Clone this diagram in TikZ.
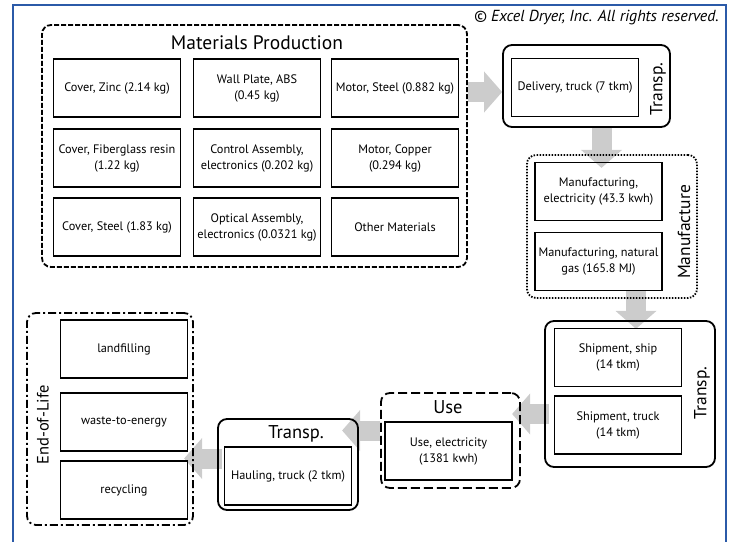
\documentclass[tikz,border=0pt]{standalone}
\usepackage{fontspec}
\setmainfont{PT Sans}
\usetikzlibrary{arrows.meta,positioning}
\definecolor{frameblue}{HTML}{2B5AA8}
\pgfdeclarelayer{bg}
\pgfsetlayers{bg,main}

\begin{document}
\begin{tikzpicture}[x=1pt,y=-1pt,
  bx/.style={draw,line width=1.6pt,minimum width=127pt,minimum height=58pt,inner sep=1pt,align=center,font=\fontsize{12.3}{16}\selectfont},
  grp/.style={draw,line width=1.8pt,rounded corners=9pt,inner sep=0pt},
  matgrp/.style={grp,dash pattern=on 5pt off 2pt},
  mfgrp/.style={grp,dash pattern=on 1.5pt off 1.5pt},
  usegrp/.style={grp,dash pattern=on 9pt off 4pt},
  eolgrp/.style={grp,dash pattern=on 8pt off 3pt on 2pt off 3pt},
  ttl/.style={font=\fontsize{18.5}{20}\selectfont,inner sep=0pt},
  vttl/.style={rotate=90,inner sep=0pt,font=\fontsize{17.5}{20}\selectfont},
  bigarr/.style={line width=20pt,draw=black!20,-{Triangle[length=18pt,width=40pt]}}]

  \useasboundingbox (0,0) rectangle (730,541);
  \draw[frameblue,line width=2.5pt] (13,545) |- (726,5) -- (726,545);
  \node[anchor=east,inner sep=0pt,font=\itshape\fontsize{16}{18}\selectfont] (cpr) at (719,18) {© Excel Dryer, Inc. All rights reserved.};

  % materials
  \node[matgrp,minimum width=425pt,minimum height=242pt] (mat) at (254.5,146) {};
  \node[ttl,font=\fontsize{19.5}{22}\selectfont] (matT) at (257,43) {Materials Production};
  \node[bx] (czn) at (117,88) {Cover, Zinc (2.14 kg)};
  \node[bx] (wall) at (257,88) {Wall Plate, ABS\\(0.45 kg)};
  \node[bx] (mst) at (395,88) {Motor, Steel (0.882 kg)};
  \node[bx] (cfg) at (117,158) {Cover, Fiberglass resin\\(1.22 kg)};
  \node[bx] (ctl) at (257,158) {Control Assembly,\\electronics (0.202 kg)};
  \node[bx] (mcu) at (395,158) {Motor, Copper\\(0.294 kg)};
  \node[bx] (cst) at (117,227) {Cover, Steel (1.83 kg)};
  \node[bx] (opt) at (257,227) {Optical Assembly,\\electronics (0.0321 kg)};
  \node[bx] (oth) at (395,227) {Other Materials};

  % delivery
  \node[grp,minimum width=167pt,minimum height=82pt] (tr1) at (586.5,86) {};
  \node[bx] (dlv) at (575,87.5) {Delivery, truck (7 tkm)};
  \node[vttl] (tr1T) at (658,89) {Transp.};

  % manufacture
  \node[mfgrp,minimum width=170pt,minimum height=143pt] (mf) at (612,226.5) {};
  \node[bx] (mfe) at (598.5,191.5) {Manufacturing,\\electricity (43.3 kwh)};
  \node[bx] (mfg) at (598.5,261.5) {Manufacturing, natural\\gas (165.8 MJ)};
  \node[vttl] (mfT) at (684,232) {Manufacture};

  % shipment
  \node[grp,minimum width=170pt,minimum height=146pt] (tr2) at (630,394) {};
  \node[bx] (shp) at (618,357.5) {Shipment, ship\\(14 tkm)};
  \node[bx] (sht) at (618,425) {Shipment, truck\\(14 tkm)};
  \node[vttl] (tr2T) at (702,393) {Transp.};

  % use
  \node[usegrp,minimum width=139pt,minimum height=95pt] (use) at (450.5,440.5) {};
  \node[ttl] (useT) at (448,407) {Use};
  \node[bx] (uel) at (448.5,451) {Use, electricity\\(1381 kwh)};

  % hauling
  \node[grp,minimum width=140pt,minimum height=91pt] (tr3) at (288,464.5) {};
  \node[ttl] (tr3T) at (296,434) {Transp.};
  \node[bx] (hau) at (288,476) {Hauling, truck (2 tkm)};

  % end of life
  \node[eolgrp,minimum width=166pt,minimum height=212pt] (eol) at (110,419) {};
  \node[vttl,font=\fontsize{16.5}{20}\selectfont] (eolT) at (43,425) {End-of-Life};
  \node[bx] (lnd) at (124,349) {landfilling};
  \node[bx] (wte) at (124,422) {waste-to-energy};
  \node[bx] (rcy) at (124,490) {recycling};

  \begin{pgfonlayer}{bg}
    \draw[bigarr] ([yshift=-6pt]mat.east |- tr1.west) -- ([yshift=-6pt]tr1.west);
    \draw[bigarr] ([xshift=15pt]tr1.south) -- ([xshift=15pt,yshift=-40pt]tr1.south);
    \draw[bigarr] ([xshift=24pt,yshift=8pt]mf.south) -- ([xshift=24pt,yshift=-30pt]mf.south);
    \draw[bigarr] ([xshift=5pt,yshift=-20pt]tr2.west) -- ([xshift=-32pt,yshift=-20pt]tr2.west);
    \draw[bigarr] ([yshift=10pt]use.west) -- ([xshift=-38pt,yshift=10pt]use.west);
    \draw[bigarr] ([xshift=5pt,yshift=6pt]tr3.west) -- ([xshift=-33pt,yshift=6pt]tr3.west);
  \end{pgfonlayer}
\end{tikzpicture}
\end{document}
